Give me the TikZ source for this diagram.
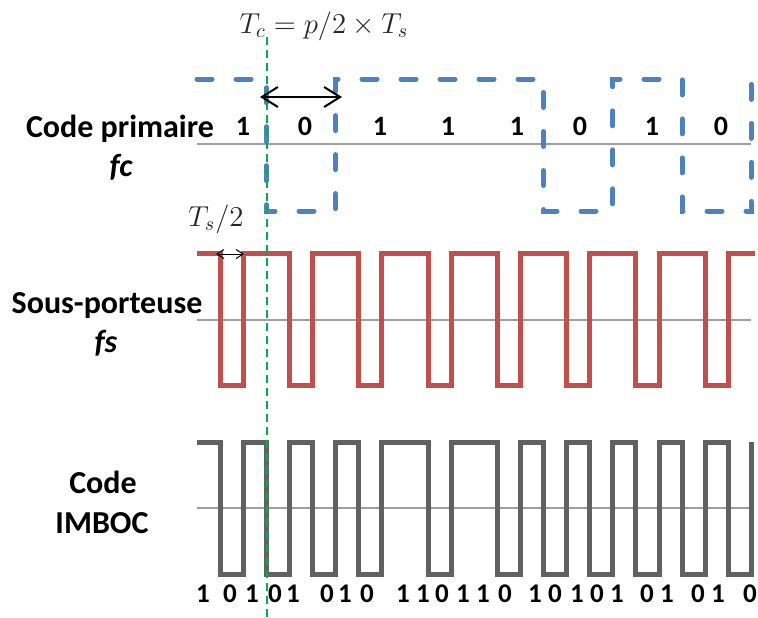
\documentclass[tikz,border=0pt]{standalone}
\usepackage{fontspec}
\setmainfont{Carlito}
\usetikzlibrary{arrows.meta}
\definecolor{codeblue}{HTML}{4F81BD}
\definecolor{subred}{HTML}{C0504D}
\definecolor{imbocgray}{HTML}{616161}
\definecolor{axisgray}{HTML}{A0A0A0}
\definecolor{syncgreen}{HTML}{00B050}
\definecolor{mathgray}{HTML}{262626}

\begin{document}
\begin{tikzpicture}[x=0.5pt, y=-0.5pt]
    \tikzset{lbl/.style = {font=\fontsize{16}{19}\selectfont\bfseries,
        inner sep=0pt, anchor=base},
      chipbit/.style = {font=\fontsize{14}{17}\selectfont\bfseries,
        inner sep=0pt, anchor=base},
      outbit/.style = {font=\fontsize{13.5}{16}\selectfont\bfseries,
        inner sep=0pt, anchor=base},
      mathlbl/.style = {text=mathgray, inner sep=0pt, anchor=base,
        font=\fontsize{14.5}{17}\selectfont},
      midline/.style = {axisgray, line width=0.75pt},
      primcode/.style = {codeblue, line width=2.5pt, line cap=round,
        dash pattern=on 7.5pt off 12pt},
      subcar/.style = {subred, line width=2.5pt},
      imboc/.style = {imbocgray, line width=2.5pt},
      period/.style = {{Straight Barb[length=8pt,width=10pt]}-{Straight Barb[length=8pt,width=10pt]}, line width=1pt},
      halfper/.style = {{Straight Barb[length=3.5pt,width=4.5pt]}-{Straight Barb[length=3.5pt,width=4.5pt]}, line width=0.5pt}}
    \useasboundingbox (0,0) rectangle (758,617);
    \node[lbl] (primaire) at (120,137) {Code primaire};
    \node[lbl] (fc) at (121,176) {\itshape fc};
    \node[lbl] (porteuse) at (107,313) {Sous-porteuse};
    \node[lbl] (fs) at (106,352) {\itshape fs};
    \node[lbl] (code) at (103,493) {Code};
    \node[lbl] (imboc) at (102,533) {IMBOC};
    \draw[midline] (197,144) -- (751,144);
    \draw[midline] (197,320) -- (751,320);
    \draw[midline] (197,508) -- (751,508);
    \begin{scope}[shift={(197,0)}, x=11.55pt]
      \draw[primcode] (0,79) -| (3,211) -| (6,79) -| (15,211) -| (18,79) -| (21,211) -| (24,79);
      \draw[subcar] (0,253) -| (1,385) -| (2,253) -| (4,385) -| (5,253) -| (7,385) -| (8,253)
        -| (10,385) -| (11,253) -| (13,385) -| (14,253) -| (16,385) -| (17,253) -| (19,385)
        -| (20,253) -| (22,385) -| (23,253) -- (24.15,253);
      \draw[imboc] (0,442) -| (1,574) -| (2,442) -| (3,574) -| (4,442) -| (5,574) -| (6,442)
        -| (7,574) -| (8,442) -| (10,574) -| (11,442) -| (13,574) -| (14,442) -| (15,574)
        -| (16,442) -| (17,574) -| (18,442) -| (19,574) -| (20,442) -| (21,574) -| (22,442)
        -| (23,574) -| (24,442);
    \end{scope}
    \foreach \x/\b [count=\i] in {243/1,305/0,380/1,448/1,517/1,580/0,652/1,721/0}
      \node[chipbit] (chip\i) at (\x,135) {\b};
    \foreach \x/\b [count=\i] in {203/1,230/0,252/1,275/0,293/1,327/0,345/1,367/0,
        403/1,423/1,442/0,463/1,483/1,505/0,535/1,555/0,577/1,597/0,617/1,647/0,
        667/1,698/0,718/1,750/0}
      \node[outbit] (bit\i) at (\x,602) {\b};
    \node[mathlbl] (tc) at (324,33) {$T_c = p/2 \times T_s$};
    \node[mathlbl] (ts) at (216,226) {$T_s/2$};
    \coordinate (sync-top) at (267,37);
    \coordinate (sync-bot) at (267,617);
    \draw[syncgreen, line width=1pt, dash pattern=on 4pt off 2.5pt] (sync-top) -- (sync-bot);
    \coordinate (tc-a) at (260,97);
    \coordinate (tc-b) at (342,97);
    \draw[period] (tc-a) -- (tc-b);
    \coordinate (ts-a) at (216,254);
    \coordinate (ts-b) at (244,254);
    \draw[halfper] (ts-a) -- (ts-b);
\end{tikzpicture}
\end{document}
